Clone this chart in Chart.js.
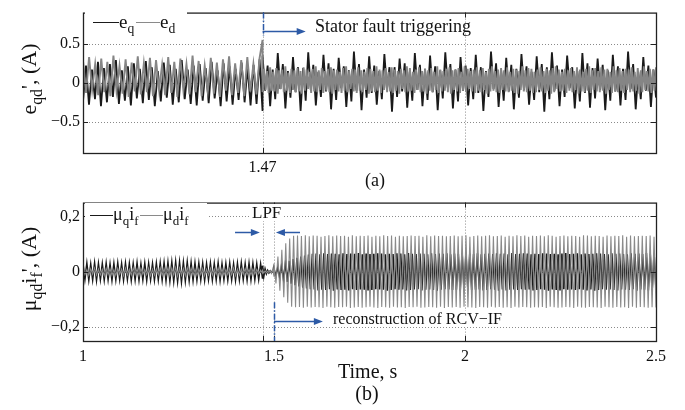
<!DOCTYPE html>
<html>
<head>
<meta charset="utf-8">
<script src="https://cdn.jsdelivr.net/npm/chart.js@4.4.1/dist/chart.umd.min.js"></script>
<style>
  html, body { margin: 0; padding: 0; background: #fff; }
  #page { position: relative; width: 685px; height: 410px; overflow: hidden;
          font-family: 'Liberation Serif', 'Times New Roman', serif; color: #111; }
  .box { position: absolute; left: 0; width: 685px; }
  .txt { position: absolute; white-space: nowrap; line-height: 1; }
  .bg { background: #fff; }
  sub { font-size: 0.72em; vertical-align: -0.4em; line-height: 0; }
  .ytitle { position: absolute; font-size: 22px; white-space: nowrap; line-height: 1;
            transform: translate(-50%, -50%) rotate(-90deg); }
  .ln { display: inline-block; height: 0; border-top: 1.5px solid; vertical-align: 0.25em; }
</style>
</head>
<body>
<div id="page">
  <div class="box" style="top:0; height:172px;"><canvas id="cTop" width="685" height="172"></canvas></div>
  <div class="box" style="top:190px; height:178px;"><canvas id="cBot" width="685" height="178"></canvas></div>

  <!-- panel (a) -->
  <div class="ytitle" style="left:29px; top:79px;">e<sub>qd</sub>', (A)</div>
  <div class="txt bg" style="left:85px; top:9px; width:102px; height:33px;"></div>
  <div class="txt" style="left:93px; top:12px; font-size:19px;">
    <span class="ln" style="width:26px; border-color:#1a1a1a;"></span>e<sub>q</sub>
    <span class="ln" style="width:24px; border-color:#8a8a8a; margin-left:-3px;"></span>e<sub>d</sub>
  </div>
  <div class="txt" style="left:315px; top:17px; font-size:18px;">Stator fault triggering</div>
  <div class="txt" style="left:375px; top:171px; font-size:18px; transform:translateX(-50%);">(a)</div>

  <!-- panel (b) -->
  <div class="ytitle" style="left:29px; top:269px;">&mu;<sub>qd</sub>i<sub>f</sub>', (A)</div>
  <div class="txt bg" style="left:85px; top:203px; width:122px; height:30px;"></div>
  <div class="txt" style="left:90px; top:205px; font-size:18px;">
    <span class="ln" style="width:23px; border-color:#1a1a1a;"></span>&mu;<sub>q</sub>i<sub>f</sub>
    <span class="ln" style="width:23px; border-color:#8a8a8a; margin-left:-3px;"></span>&mu;<sub>d</sub>i<sub>f</sub>
  </div>
  <div class="txt bg" style="left:251px; top:204px; font-size:17px; padding:0 1px;">LPF</div>
  <div class="txt bg" style="left:331px; top:311px; font-size:16px; padding:0 2px;">reconstruction of RCV&minus;IF</div>
  <div class="txt" style="left:338px; top:361px; font-size:20px;">Time, s</div>
  <div class="txt" style="left:367px; top:383px; font-size:20px; transform:translateX(-50%);">(b)</div>
</div>

<script>
// ---- panel (a): e_q (black) and e_d (grey), values in hundredths of A ----
const TOP_T = [1.0, 1.47, 2.5];            // segment boundaries (s)
const ED_PRE = [
  28,-13,33,-9,24,-16,31,-12,27,-17,35,-10,22,-14,30,-18,26,-11,34,-15,
  25,-12,32,-17,29,-9,23,-16,33,-13,27,-18,31,-10,24,-15,35,-12,28,-17,
  22,-11,32,-14,26,-18,30,-10,34,-16,25,-13,29,-17,33,-11,24,-15,31,55
];
const ED_POST = [
  -12,18,-9,15,-13,20,-10,14,-11,19,-14,16,-8,17,-12,21,-10,13,-13,18,
  -9,16,-12,19,-11,15,-14,20,-10,17,-8,14,-13,18,-11,21,-12,16,-9,19,
  -13,15,-10,18,-12,20,-14,16,-9,17,-11,14,-13,19,-10,21,-12,15,-8,18,
  -11,17,-13,20,-10,16,-12,14,-9,19,-14,18,-11,15,-12,21,-10,17,-13,16,
  -9,19,-12,14,-11,20,-13,17,-10,15,-14,18,-8,16,-12,21,-11,19,-10,14,
  -13,17,-9,20,-12,15,-11,18,-14,16,-10,19,-12,14,-9,21,-13,17,-11,15,
  -10,18,-12,20,-14,16,-9,17,-11,19,-13,14,-10,21,-12,18,-8,15,-11,17,
  -13,20,-10,16,-12,19,-9,14,-14,18,-11,21,-10,15,-12,17,-13,19,-9,16,
  -11,20,-12,14,-10,18,-13,17,-14,15,-9,21,-11,16,-12,19,-10,18,-13,14,
  -12,17,-9,20,-11,15,-13,18,-10,16,-14,19,-12,21,-8,17,-11,14,-10,18,
  -13,16,-10,19,-12,15,-9,20,-14,17,-11,14,-12,18,-10,21,-13,16,-9,19,
  -11,15,-12,20,-10,17,-14,18,-9,14,-13,21,-11,16,-12,19,-10,15,-13,18,
  -9,17,-12,20,-11,14,-10,19,-14,16,-12,21,-9,15,-11,18,-13,17,-10,20
];
const EQ_PRE = [
  -24,22,-28,17,-21,27,-30,19,-25,24,-18,29,-27,16,-23,21,-29,25,-20,18,
  -26,28,-22,20,-30,15,-24,26,-19,23,-28,18,-25,29,-21,17,-27,22,-29,24,
  -23,19,-26,27,-20,16,-30,25,-24,21,-28,18,-22,26,-25,20,-29,23,-27,30,-36
];
const EQ_POST = [
  35,-10,22,-30,17,-21,  38,-8,24,-33,15,-19,  33,-12,20,-36,19,-23,  39,-9,23,-29,14,-18,
  36,-11,25,-34,18,-22,  32,-7,21,-31,16,-24,  40,-10,24,-35,17,-19,  34,-13,22,-28,15,-21,
  37,-8,20,-37,20,-18,   31,-11,25,-32,14,-23, 38,-9,23,-30,18,-22,   35,-12,21,-35,16,-20,
  39,-7,24,-33,17,-24,   33,-10,22,-29,19,-21, 36,-13,20,-36,15,-18,  40,-8,25,-31,16,-23,
  32,-11,23,-34,18,-19,  37,-9,21,-28,14,-22,  34,-12,24,-37,20,-21,  39,-10,22,-30,17,-18,
  35,-7,20,-33,15,-24,   38,-13,25,-32,19,-20, 31,-9,23,-35,16,-23,   36,-11,21,-29,18,-22,
  40,-8,24,-34,14,-21,   33,-10,22,-31,17,-19
];
const TOP_Y_TICKS = [-0.5, 0, 0.5];
const TOP_Y_LABELS = ['\u22120.5', '0', '0.5'];
const TOP_X_TICKS = [1.47, 2];
const TOP_X_LABELS = ['1.47', ''];

// ---- panel (b): mu_q*i_f (black) and mu_d*i_f (grey), values in thousandths of A ----
const BOT_T = [1.0, 1.47, 1.5, 2.5];
const MUQ_PRE = [
  28,-27,30,-29,27,-28,31,-30,29,-27,28,-29,30,-28,27,-30,29,-28,31,-27,
  28,-29,30,-27,29,-30,28,-28,31,-29,27,-28,30,-30,29,-27,28,-29,30,-28,
  31,-29,32,-31,33,-32,34,-33,35,-34,34,-35,33,-32,34,-31,32,-30,31,-29,
  30,-28,29,-30,28,-27,30,-29,29,-28,31,-30,28,-27,29,-29,30,-28,27,-30,
  29,-28,31,-27,28,-29,30,-28,29,-27,28,-26,27,-25
];
const MUQ_GAP = [22,-16,10,-7,5,-4,3,-3,4,-6];
const MUQ_POST = [
  10,-14,18,-22,26,-30,34,-37,40,-43,46,-48,51,-53,55,-57,59,-60,62,-63,
  65,-64,66,-67,63,-65,67,-66,64,-63,66,-68,65,-64,63,-66,67,-65,64,-67,
  66,-63,65,-66,68,-64,63,-65,66,-67,64,-66,65,-63,67,-64,66,-65,63,-68,
  65,-66,64,-63,67,-65,66,-64,63,-67,68,-66,65,-64,64,-63,66,-67,65,-65,
  63,-64,67,-66,64,-68,66,-65,65,-63,67,-64,63,-66,66,-65,64,-67,68,-64,
  65,-63,66,-66,64,-65,67,-64,63,-67,65,-66,66,-63,64,-65,67,-68,65,-64,
  66,-67,63,-65,68,-64,64,-66,65,-63,67,-65,66,-64,63,-67,65,-66,64,-63,
  67,-65,66,-68,64,-64,65,-66,63,-67,66,-63,68,-65,64,-64,65,-66,67,-63,
  63,-65,66,-67,64,-64,65,-68,67,-66,66,-63,64,-65,63,-64,67,-66,65,-67,
  66,-64,64,-65,63,-66,67,-63,65,-68,66,-64,64,-65,68,-67,63,-66,65,-64
];
const MUD_PRE = [
  12,-10,8,-13,11,-9,14,-12,10,-11,9,-14,13,-10,11,-12,8,-13,12,-9,
  10,-14,13,-11,9,-12,14,-10,11,-13,12,-9,8,-11,13,-14,10,-12,11,-10,
  14,-13,12,-11,15,-14,13,-12,16,-15,14,-13,12,-14,15,-11,13,-12,10,-13,
  11,-10,12,-14,9,-11,13,-12,10,-9,14,-13,11,-12,8,-10,12,-11,13,-14,
  10,-12,11,-9,12,-10,9,-11,10,-8,9,-7,6,-5
];
const MUD_GAP = [5,-4,3,-3,2,-2,4,-6,10,-18];
const MUD_POST = [
  30,-42,55,-68,80,-92,103,-112,120,-126,
  130,-128,131,-127,129,-130,132,-126,128,-129,131,-127,130,-128,127,-131,129,-126,132,-128,
  128,-130,131,-127,129,-128,130,-126,127,-131,132,-129,128,-127,130,-130,129,-128,131,-126,
  127,-129,130,-131,128,-127,132,-128,129,-130,131,-126,127,-129,130,-128,128,-131,129,-127,
  131,-128,129,-126,130,-130,127,-129,132,-127,128,-128,131,-130,129,-126,130,-131,128,-127,
  129,-129,131,-127,128,-130,130,-126,132,-128,127,-129,129,-131,131,-127,128,-128,130,-130,
  132,-126,128,-129,129,-127,131,-130,127,-128,130,-131,128,-126,132,-129,129,-127,131,-128,
  127,-130,130,-128,129,-129,131,-127,128,-131,132,-126,130,-128,127,-130,129,-129,131,-127,
  128,-128,130,-131,129,-126,127,-129,132,-130,131,-127,128,-128,130,-129,129,-131,127,-126,
  131,-128,128,-130,130,-127,129,-129,132,-128,127,-131,131,-126,128,-130,129,-127,130,-128,
  129,-130,131,-128,127,-129
];
const BOT_Y_TICKS = [-0.2, 0, 0.2];
const BOT_Y_LABELS = ['\u22120,2', '0', '0,2'];
const BOT_X_TICKS = [1, 1.5, 2, 2.5];
const BOT_X_LABELS = ['1', '1.5', '2', '2.5'];

const INK = '#111';
const BLUE = '#2d5aa6';
const TICK_FONT = { family: "'Liberation Serif', 'Times New Roman', serif", size: 16 };

// spread each segment's samples evenly between its two boundary times
function segment(vals, t0, t1, unit) {
  const n = vals.length;
  return vals.map((v, i) => ({ x: t0 + (t1 - t0) * i / (n - 1), y: v * unit }));
}
function joined(parts, bounds, unit) {
  return parts.flatMap((p, k) => segment(p, bounds[k], bounds[k + 1], unit));
}

// MATLAB-ish axes: dotted grid under the data, box + inward tick marks on top,
// plus the blue dash-dot markers and arrows given in data coordinates
const matlabAxes = {
  id: 'matlabAxes',
  beforeDatasetsDraw(chart, args, o) {
    const { ctx, chartArea: a, scales: { x, y } } = chart;
    ctx.save();
    ctx.strokeStyle = '#8a8a8a';
    ctx.lineWidth = 1;
    ctx.setLineDash([1, 2]);
    o.xGrid.forEach(v => {
      const px = Math.round(x.getPixelForValue(v)) + 0.5;
      ctx.beginPath(); ctx.moveTo(px, a.top); ctx.lineTo(px, a.bottom); ctx.stroke();
    });
    o.yGrid.forEach(v => {
      const py = Math.round(y.getPixelForValue(v)) + 0.5;
      ctx.beginPath(); ctx.moveTo(a.left, py); ctx.lineTo(a.right, py); ctx.stroke();
    });
    ctx.restore();
  },
  afterDatasetsDraw(chart, args, o) {
    const { ctx, chartArea: a, scales: { x, y } } = chart;
    ctx.save();
    ctx.strokeStyle = '#222';
    ctx.lineWidth = 1.3;
    ctx.setLineDash([]);
    ctx.strokeRect(a.left + 0.5, a.top + 0.5, a.right - a.left, a.bottom - a.top);
    const tl = 5;
    ctx.lineWidth = 1;
    ctx.beginPath();
    o.xTicks.forEach(v => {
      const px = Math.round(x.getPixelForValue(v)) + 0.5;
      ctx.moveTo(px, a.top); ctx.lineTo(px, a.top + tl);
      ctx.moveTo(px, a.bottom); ctx.lineTo(px, a.bottom - tl);
    });
    o.yTicks.forEach(v => {
      const py = Math.round(y.getPixelForValue(v)) + 0.5;
      ctx.moveTo(a.left, py); ctx.lineTo(a.left + tl, py);
      ctx.moveTo(a.right, py); ctx.lineTo(a.right - tl, py);
    });
    ctx.stroke();

    ctx.strokeStyle = BLUE;
    ctx.fillStyle = BLUE;
    ctx.lineWidth = 1.5;
    (o.vlines || []).forEach(m => {
      const px = Math.round(x.getPixelForValue(m.x)) + 0.5;
      ctx.setLineDash([6, 2, 1.5, 2]);
      ctx.beginPath();
      ctx.moveTo(px, y.getPixelForValue(m.y0));
      ctx.lineTo(px, y.getPixelForValue(m.y1));
      ctx.stroke();
    });
    ctx.setLineDash([]);
    (o.arrows || []).forEach(m => {
      const x0 = x.getPixelForValue(m.x0), x1 = x.getPixelForValue(m.x1);
      const py = Math.round(y.getPixelForValue(m.y)) + 0.5;
      const dir = Math.sign(x1 - x0);
      ctx.beginPath(); ctx.moveTo(x0, py); ctx.lineTo(x1 - dir * 6, py); ctx.stroke();
      ctx.beginPath();
      ctx.moveTo(x1, py);
      ctx.lineTo(x1 - dir * 9, py - 3.5);
      ctx.lineTo(x1 - dir * 9, py + 3.5);
      ctx.closePath(); ctx.fill();
    });
    ctx.restore();
  }
};

function makeChart(id, cfg) {
  return new Chart(document.getElementById(id), {
    type: 'line',
    data: {
      datasets: [
        // grey series first so it is painted on top (Chart.js draws index 0 last)
        { data: cfg.grey, borderColor: cfg.greyColor, borderWidth: cfg.greyWidth },
        { data: cfg.black, borderColor: '#1a1a1a', borderWidth: cfg.blackWidth },
      ],
    },
    options: {
      responsive: false,
      animation: false,
      events: [],
      parsing: false,
      elements: { point: { radius: 0 }, line: { tension: 0, borderJoinStyle: 'miter' } },
      layout: { padding: { left: 0, right: 29, top: cfg.padTop, bottom: 0 } },
      plugins: {
        legend: { display: false },
        tooltip: { enabled: false },
        matlabAxes: cfg.axes,
      },
      scales: {
        x: {
          type: 'linear', min: 1, max: 2.5,
          afterBuildTicks: s => { s.ticks = cfg.xTicks.map(v => ({ value: v })); },
          afterFit: s => { s.height = cfg.xAxisHeight; },
          ticks: {
            autoSkip: false, maxRotation: 0, padding: cfg.xPad, color: INK, font: TICK_FONT,
            callback: (v, i) => cfg.xLabels[i],
          },
          grid: { display: false, drawTicks: false },
          border: { display: false },
        },
        y: {
          min: -cfg.yMax, max: cfg.yMax,
          afterBuildTicks: s => { s.ticks = cfg.yTicks.map(v => ({ value: v })); },
          afterFit: s => { s.width = 83; },
          ticks: {
            padding: 3, color: INK, font: TICK_FONT,
            callback: (v, i) => cfg.yLabels[i],
          },
          grid: { display: false, drawTicks: false },
          border: { display: false },
        },
      },
    },
    plugins: [matlabAxes],
  });
}

makeChart('cTop', {
  grey: joined([ED_PRE, ED_POST], TOP_T, 0.01),
  black: joined([EQ_PRE, EQ_POST], TOP_T, 0.01),
  greyColor: '#858585', greyWidth: 1.9, blackWidth: 1.8,
  padTop: 6, xAxisHeight: 19, xPad: 5, yMax: 0.9,
  xTicks: TOP_X_TICKS, xLabels: TOP_X_LABELS,
  yTicks: TOP_Y_TICKS, yLabels: TOP_Y_LABELS,
  axes: {
    xGrid: TOP_X_TICKS, yGrid: TOP_Y_TICKS,
    xTicks: TOP_X_TICKS, yTicks: TOP_Y_TICKS,
    vlines: [{ x: 1.47, y0: 0.9, y1: 0.6 }],
    arrows: [{ x0: 1.47, x1: 1.583, y: 0.66 }],
  },
});

makeChart('cBot', {
  grey: joined([MUD_PRE, MUD_GAP, MUD_POST], BOT_T, 0.001),
  black: joined([MUQ_PRE, MUQ_GAP, MUQ_POST], BOT_T, 0.001),
  greyColor: '#8a8a8a', greyWidth: 1.1, blackWidth: 1.6,
  padTop: 8, xAxisHeight: 27, xPad: 6, yMax: 0.25,
  xTicks: BOT_X_TICKS, xLabels: BOT_X_LABELS,
  yTicks: BOT_Y_TICKS, yLabels: BOT_Y_LABELS,
  axes: {
    xGrid: [1.47, 1.5, 2], yGrid: BOT_Y_TICKS,
    xTicks: [1.47, 1.5, 2], yTicks: BOT_Y_TICKS,
    vlines: [{ x: 1.5, y0: -0.11, y1: -0.25 }],
    arrows: [
      { x0: 1.398, x1: 1.463, y: 0.143 },
      { x0: 1.568, x1: 1.505, y: 0.143 },
      { x0: 1.5, x1: 1.628, y: -0.178 },
    ],
  },
});
</script>
</body>
</html>
